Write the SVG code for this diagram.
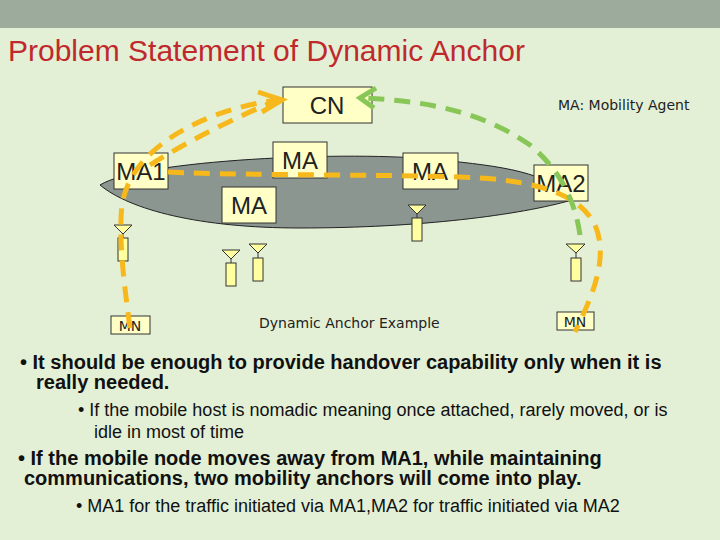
<svg xmlns="http://www.w3.org/2000/svg" width="720" height="540" viewBox="0 0 720 540">
<style>
.box{fill:#ffffc6;stroke:#333;stroke-width:1}
.lbl{font-family:"Liberation Sans",Arial,sans-serif;font-size:24px;fill:#222}
.or{fill:none;stroke:#f7b81c;stroke-width:5;stroke-dasharray:16 10}
.gr{fill:none;stroke:#88c657;stroke-width:5;stroke-dasharray:16 10}
.b1{font-family:"Liberation Sans",Arial,sans-serif;font-size:20px;font-weight:bold;fill:#111}
.b2{font-family:"Liberation Sans",Arial,sans-serif;font-size:18px;fill:#111}
</style>
<rect width="720" height="540" fill="#e3f0d6"/>
<rect width="720" height="28" fill="#9dab9d"/>
<text x="8" y="61" font-family="Liberation Sans,Arial,sans-serif" font-size="30" fill="#c0292b">Problem Statement of Dynamic Anchor</text>
<path id="cloud" d="M100,185 C140,160 350,150 440,160 C500,166 550,172 572,200 C520,215 420,228 300,228 C200,228 130,210 100,185 Z" fill="#8b9690" stroke="#222" stroke-width="1"/>
<g id="antennas" fill="#ffffa0" stroke="#333" stroke-width="1">
<path d="M114,225 L132,225 L123,234 Z M123,234 V238"/><rect x="118" y="238" width="10" height="23"/>
<path d="M222,250 L240,250 L231,259 Z M231,259 V263"/><rect x="226" y="263" width="10" height="23"/>
<path d="M249,244 L267,244 L258,253 Z M258,253 V258"/><rect x="253" y="258" width="10" height="23"/>
<path d="M408,205 L426,205 L417,214 Z M417,214 V218"/><rect x="412" y="218" width="10" height="23"/>
<path d="M566,244 L585,244 L576,253 Z M576,253 V258"/><rect x="571" y="258" width="10" height="23"/>
</g>
<g id="CN"><rect class="box" x="283" y="87" width="89" height="36"/><text class="lbl" x="327" y="114" text-anchor="middle">CN</text></g>
<g id="MA1"><rect class="box" x="114" y="153" width="54" height="36"/><text class="lbl" x="141" y="180" text-anchor="middle">MA1</text></g>
<g id="MAtop"><rect class="box" x="273" y="142" width="54" height="36"/><text class="lbl" x="300" y="169" text-anchor="middle">MA</text></g>
<g id="MAlow"><rect class="box" x="222" y="187" width="54" height="36"/><text class="lbl" x="249" y="214" text-anchor="middle">MA</text></g>
<g id="MAright"><rect class="box" x="403" y="153" width="55" height="36"/><text class="lbl" x="430" y="180" text-anchor="middle">MA</text></g>
<g id="MA2"><rect class="box" x="534" y="165" width="54" height="36"/><text class="lbl" x="561" y="192" text-anchor="middle">MA2</text></g>
<g id="MNL"><rect class="box" x="111" y="316" width="39" height="18"/><text x="130" y="331" text-anchor="middle" font-family="DejaVu Sans,sans-serif" font-size="14" fill="#222">MN</text></g>
<g id="MNR"><rect class="box" x="557" y="312" width="37" height="18"/><text x="575" y="327" text-anchor="middle" font-family="DejaVu Sans,sans-serif" font-size="14" fill="#222">MN</text></g>
<g id="connectors">
<path class="or" d="M130,328 C125,290 118,240 122,205 C130,150 200,110 278,100"/>
<path class="or" d="M150,165 C190,140 240,115 278,100"/>
<path fill="none" stroke="#f7b81c" stroke-width="5" d="M258,92 L282,100 L262,112"/>
<path class="or" d="M168,172 C250,176 420,174 480,178 C540,182 580,195 595,225 C610,260 590,300 575,332"/>
<path class="gr" d="M580,235 C575,200 560,170 530,145 C480,110 420,100 360,98"/>
<path fill="none" stroke="#88c657" stroke-width="5" d="M376,88 L360,98 L374,108"/>
</g>
<text x="558" y="110" font-family="DejaVu Sans,sans-serif" font-size="14" fill="#222">MA: Mobility Agent</text>
<text x="259" y="328" font-family="DejaVu Sans,sans-serif" font-size="14" fill="#222">Dynamic Anchor Example</text>
<text class="b1" x="20" y="369">• It should be enough to provide handover capability only when it is</text>
<text class="b1" x="36" y="389">really needed.</text>
<text class="b2" x="78" y="416">• If the mobile host is nomadic meaning once attached, rarely moved, or is</text>
<text class="b2" x="94" y="438">idle in most of time</text>
<text class="b1" x="18" y="465">• If the mobile node moves away from MA1, while maintaining</text>
<text class="b1" x="24" y="485">communications, two mobility anchors will come into play.</text>
<text class="b2" x="76" y="512">• MA1 for the traffic initiated via MA1,MA2 for traffic initiated via MA2</text>
</svg>
